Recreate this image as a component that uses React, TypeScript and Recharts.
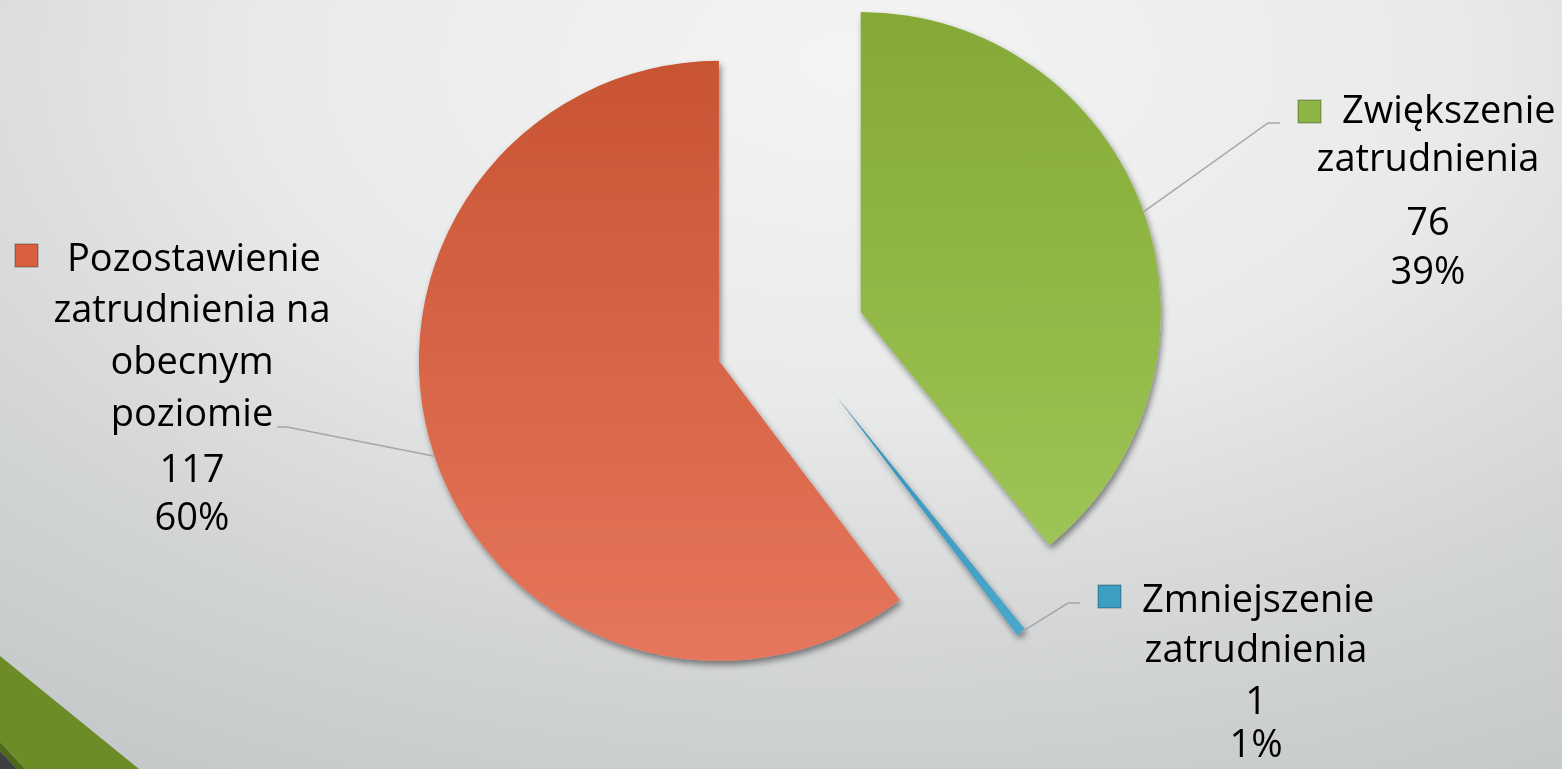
import { PieChart, Pie, Cell } from "recharts";

const categories = [
  "Zwiększenie zatrudnienia",
  "Zmniejszenie zatrudnienia",
  "Pozostawienie zatrudnienia na obecnym poziomie",
];
const values = [76, 1, 117];
const labelLines = [
  ["Zwiększenie", "zatrudnienia"],
  ["Zmniejszenie", "zatrudnienia"],
  ["Pozostawienie", "zatrudnienia na", "obecnym", "poziomie"],
];

const data = categories.map((name, i) => ({ name, value: values[i] }));
const total = values.reduce((a, b) => a + b, 0);

const GRADS = ["gradGreen", "gradBlue", "gradRed"];
const KEY_COLORS = ["#8db545", "#3d9dc3", "#d9603f"];

// where each label box sits (layout only)
const LABEL_LAYOUT = [
  { elbow: [1268, 123], end: [1280, 123], key: [1298, 100], firstX: 1342, centerX: 1428, base: [123, 171, 235, 284] },
  { elbow: [1068, 603], end: [1080, 603], key: [1098, 585], firstX: 1142, centerX: 1256, base: [612, 662, 714, 757] },
  { elbow: [287, 427], end: [277, 427], key: [15, 244], firstX: 67, centerX: 192, base: [271, 322, 374, 426, 482, 530] },
];

const CX = 790;
const CY = 337;
const RADIUS = 300;
const EXPLODE = 75;
const RAD = Math.PI / 180;

// exploded centre of each slice, pushed out along its mid angle
const centers = values.map((v, i) => {
  const before = values.slice(0, i).reduce((a, b) => a + b, 0);
  const mid = 90 - (360 * (before + v / 2)) / total;
  return {
    x: CX + EXPLODE * Math.cos(mid * RAD),
    y: CY - EXPLODE * Math.sin(mid * RAD),
  };
});

const FONT = "'Open Sans', 'DejaVu Sans', sans-serif";
const FS = 38;

const makeLabel = (k: number) => (props: any) => {
  if (props.index !== k) return <g key={`none-${props.index}`} />;
  const { cx, cy, midAngle, outerRadius, value, percent } = props;
  const sx = cx + outerRadius * Math.cos(-midAngle * RAD);
  const sy = cy + outerRadius * Math.sin(-midAngle * RAD);
  const lay = LABEL_LAYOUT[k];
  const lines = labelLines[k];
  const rest = [...lines.slice(1), String(value), `${Math.round(percent * 100)}%`];
  return (
    <g key={`lbl-${k}`}>
      <polyline
        points={`${sx},${sy} ${lay.elbow[0]},${lay.elbow[1]} ${lay.end[0]},${lay.end[1]}`}
        fill="none"
        stroke="#a6a6a6"
        strokeWidth={1.5}
      />
      <rect
        x={lay.key[0]}
        y={lay.key[1]}
        width={23}
        height={23}
        fill={KEY_COLORS[k]}
        stroke="rgba(0,0,0,0.35)"
        strokeWidth={1}
      />
      <text x={lay.firstX} y={lay.base[0]} fontFamily={FONT} fontSize={FS} fill="#000">
        {lines[0]}
      </text>
      {rest.map((t, j) => (
        <text
          key={j}
          x={lay.centerX}
          y={lay.base[j + 1]}
          textAnchor="middle"
          fontFamily={FONT}
          fontSize={FS}
          fill="#000"
        >
          {t}
        </text>
      ))}
    </g>
  );
};

export default function App() {
  return (
    <div
      style={{
        position: "fixed",
        left: 0,
        top: 0,
        width: 1562,
        height: 769,
        overflow: "hidden",
        background:
          "radial-gradient(ellipse 95% 110% at 55% 8%, #f4f4f4 0%, #e9eaea 40%, #d3d5d6 70%, #c4c7c8 100%)",
      }}
    >
      <svg width={1562} height={769} style={{ position: "absolute", left: 0, top: 0 }}>
        <polygon points="0,656 139,769 25,769 0,742" fill="#6b8c27" />
        <polygon points="0,742 25,769 17,769 0,751" fill="#4d6818" />
        <polygon points="0,751 17,769 0,769" fill="#3f3f3f" />
      </svg>
      <div style={{ position: "absolute", left: 0, top: 0 }}>
        <PieChart width={1562} height={769} margin={{ top: 0, right: 0, bottom: 0, left: 0 }}>
          <defs>
            <linearGradient id="gradGreen" x1="0" y1="0" x2="0" y2="1">
              <stop offset="0%" stopColor="#84a936" />
              <stop offset="100%" stopColor="#9dc455" />
            </linearGradient>
            <linearGradient id="gradBlue" x1="0" y1="0" x2="0" y2="1">
              <stop offset="0%" stopColor="#3791b8" />
              <stop offset="100%" stopColor="#4aa8cb" />
            </linearGradient>
            <linearGradient id="gradRed" x1="0" y1="0" x2="0" y2="1">
              <stop offset="0%" stopColor="#c85433" />
              <stop offset="100%" stopColor="#e6765c" />
            </linearGradient>
            <filter id="shadow" x="-10%" y="-10%" width="125%" height="125%">
              <feDropShadow dx="2" dy="4" stdDeviation="3" floodColor="#000" floodOpacity="0.45" />
            </filter>
          </defs>
          {[2, 0, 1].map((k) => (
            <Pie
              key={k}
              data={data}
              dataKey="value"
              nameKey="name"
              cx={centers[k].x}
              cy={centers[k].y}
              innerRadius={0}
              outerRadius={RADIUS}
              startAngle={90}
              endAngle={-270}
              stroke="none"
              isAnimationActive={false}
              labelLine={false}
              label={makeLabel(k)}
            >
              {data.map((_, i) => (
                <Cell
                  key={`c-${i}`}
                  fill={i === k ? `url(#${GRADS[i]})` : "none"}
                  stroke="none"
                  filter={i === k ? "url(#shadow)" : undefined}
                />
              ))}
            </Pie>
          ))}
        </PieChart>
      </div>
    </div>
  );
}
